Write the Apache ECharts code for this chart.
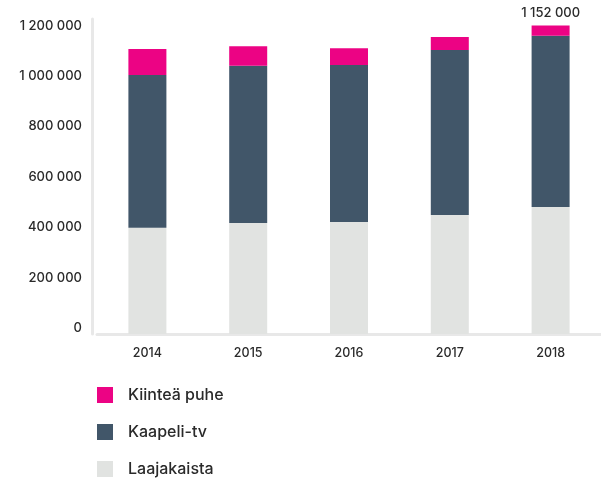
<!DOCTYPE html>
<html>
<head>
<meta charset="utf-8">
<script src="https://cdn.jsdelivr.net/npm/echarts@6/dist/echarts.min.js"></script>
<style>
  html, body { margin: 0; padding: 0; background: #fff; }
  #chart { width: 601px; height: 481px; }
</style>
</head>
<body>
<div id="chart"></div>
<script>
var years = ['2014', '2015', '2016', '2017', '2018'];
var laajakaista = [422000, 440000, 444000, 472000, 504000];
var kaapeliTv = [606000, 624000, 623000, 655000, 680000];
var kiinteaPuhe = [103000, 78000, 67000, 52000, 40000];
var topLabels = ['', '', '', '', '1 152 000'];
var yTicks = [0, 200000, 400000, 600000, 800000, 1000000, 1200000];

var font = 'Inter, "Noto Sans", sans-serif';

function fmt(v) {
	return String(v).replace(/\B(?=(\d{3})+(?!\d))/g, ' ');
}

var myChart = echarts.init(document.getElementById('chart'));
var option = {
	backgroundColor: '#ffffff',
	animation: false,
	grid: { left: 97, right: -2, top: 19, bottom: 147, containLabel: false },
	legend: {
		orient: 'vertical',
		left: 92,
		top: 382,
		height: 120,
		itemWidth: 16,
		itemHeight: 16,
		itemGap: 21,
		icon: 'rect',
		data: ['Kiinteä puhe', 'Kaapeli-tv', 'Laajakaista'],
		textStyle: { fontFamily: font, fontSize: 16, fontWeight: 500, lineHeight: 16, color: '#2a2a2a', padding: [0, 0, 0, 10] }
	},
	xAxis: {
		type: 'category',
		data: years,
		axisLine: { lineStyle: { color: '#e8e8e8', width: 3 } },
		axisTick: { show: false },
		axisLabel: { fontFamily: font, fontSize: 12.5, fontWeight: 500, color: '#2a2a2a', margin: 13 }
	},
	yAxis: {
		type: 'value',
		min: 0,
		max: 1250000,
		interval: 200000,
		offset: 5,
		axisLine: { show: true, lineStyle: { color: '#e8e8e8', width: 3 } },
		axisTick: { show: false },
		splitLine: { show: false },
		axisLabel: {
			fontFamily: font, fontSize: 13, fontWeight: 500, color: '#2a2a2a', margin: 10,
			verticalAlign: 'bottom',
			lineHeight: 12,
			showMaxLabel: false,
			formatter: function (v) { return yTicks.indexOf(v) >= 0 ? fmt(v) : ''; }
		}
	},
	series: [
		{
			name: 'Laajakaista', type: 'bar', stack: 'a', barWidth: 38,
			itemStyle: { color: '#e1e3e1' },
			data: laajakaista
		},
		{
			name: 'Kaapeli-tv', type: 'bar', stack: 'a', barWidth: 38,
			itemStyle: { color: '#415669' },
			data: kaapeliTv
		},
		{
			name: 'Kiinteä puhe', type: 'bar', stack: 'a', barWidth: 38,
			itemStyle: { color: '#ec0384' },
			label: {
				show: true, position: 'top', distance: 6,
				fontFamily: font, fontSize: 13, fontWeight: 500, color: '#2a2a2a',
				formatter: function (p) { return topLabels[p.dataIndex]; }
			},
			data: kiinteaPuhe
		}
	]
};
myChart.setOption(option);
</script>
</body>
</html>
